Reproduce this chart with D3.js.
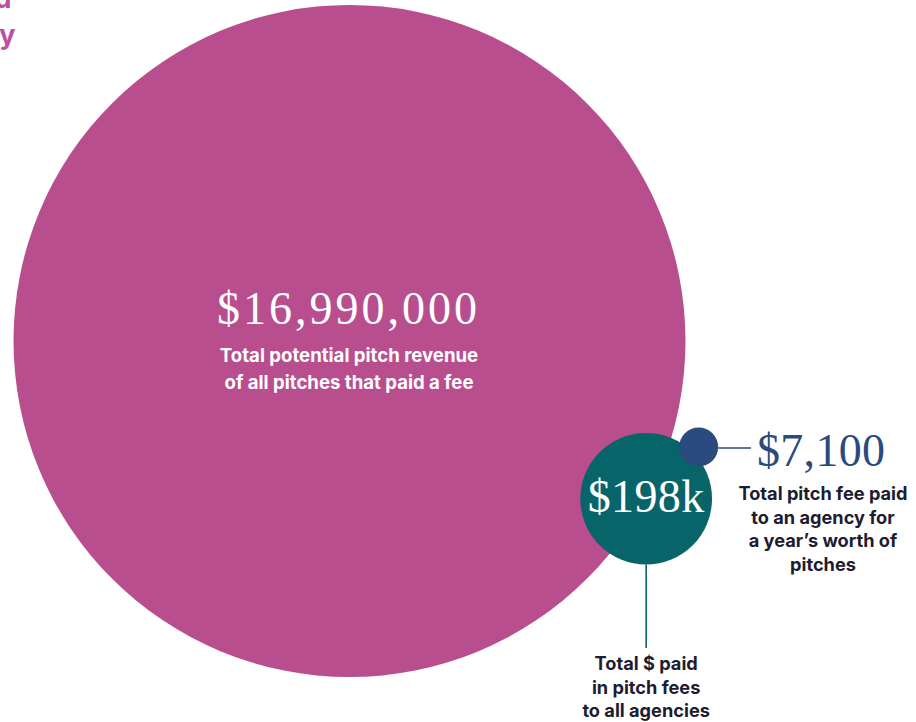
<!DOCTYPE html>
<html>
<head>
<meta charset="utf-8">
<script src="https://cdn.jsdelivr.net/npm/d3@7"></script>
<style>
  html, body { margin: 0; padding: 0; background: #ffffff; }
  svg { display: block; }
  .num { font-family: "Liberation Serif", "DejaVu Serif", serif; font-weight: 400; }
  .lbl { font-family: Inter, "Noto Sans", sans-serif; font-weight: 700; }
</style>
</head>
<body>
<svg id="chart" width="916" height="722"></svg>
<script>
// Amounts shown as bubbles
const names = ["potential", "paidAll", "paidAgency"];
const values = [16990000, 198000, 7100];
const valueLabels = ["$16,990,000", "$198k", "$7,100"];
const descriptions = [
  ["Total potential pitch revenue", "of all pitches that paid a fee"],
  ["Total $ paid", "in pitch fees", "to all agencies"],
  ["Total pitch fee paid", "to an agency for", "a year\u2019s worth of", "pitches"]
];
const colors = ["#b94e8f", "#07656a", "#2b4a7d"];
const titleLines = ["What is actually paid", "per pitch, by agency"];

const W = 916, H = 722;
const svg = d3.select("#chart");

// Bubble radius grows with a compressed power of the amount
const r = d3.scalePow().exponent(0.366).domain([0, values[0]]).range([0, 336]);
const R = values.map(v => r(v));

// Layout: big bubble, the middle bubble sits on its rim, the small one hangs off the middle
const big = { x: 349.5, y: 341 };
const a1 = 28 * Math.PI / 180;
const mid = { x: big.x + R[0] * Math.cos(a1), y: big.y + R[0] * Math.sin(a1) };
const a2 = -44.6 * Math.PI / 180;
const d2 = R[1] + R[2] - 11.6;
const small = { x: mid.x + d2 * Math.cos(a2), y: mid.y + d2 * Math.sin(a2) };
const centers = [big, mid, small];

// Title, running off the left edge of the frame
svg.append("g")
  .selectAll("text")
  .data(titleLines)
  .join("text")
  .attr("class", "lbl")
  .attr("x", (d, i) => i === 0 ? 11.5 : 15.5)
  .attr("y", (d, i) => 8 + i * 36)
  .attr("text-anchor", "end")
  .attr("font-size", 27)
  .attr("font-weight", 800)
  .attr("fill", "#be4f9d")
  .text(d => d);

// Leader lines
svg.append("line")
  .attr("x1", mid.x).attr("x2", mid.x)
  .attr("y1", mid.y + R[1]).attr("y2", 648)
  .attr("stroke", colors[1]).attr("stroke-width", 1.6);
svg.append("line")
  .attr("x1", small.x + R[2]).attr("x2", 751)
  .attr("y1", small.y + 1).attr("y2", small.y + 1)
  .attr("stroke", colors[2]).attr("stroke-width", 1.6);

// Bubbles
svg.append("g")
  .selectAll("circle")
  .data(values)
  .join("circle")
  .attr("cx", (d, i) => centers[i].x)
  .attr("cy", (d, i) => centers[i].y)
  .attr("r", d => r(d))
  .attr("fill", (d, i) => colors[i]);

// Big amount figures
svg.append("text").attr("class", "num")
  .attr("x", big.x - 1).attr("y", 324)
  .attr("text-anchor", "middle")
  .attr("font-size", 46).attr("letter-spacing", 3)
  .attr("fill", "#ffffff")
  .text(valueLabels[0]);

svg.append("text").attr("class", "num")
  .attr("x", mid.x).attr("y", 512)
  .attr("text-anchor", "middle")
  .attr("font-size", 46).attr("letter-spacing", 0.4)
  .attr("fill", "#ffffff")
  .text(valueLabels[1]);

svg.append("text").attr("class", "num")
  .attr("x", 757).attr("y", 466)
  .attr("text-anchor", "start")
  .attr("font-size", 46).attr("letter-spacing", 0.3)
  .attr("fill", colors[2])
  .text(valueLabels[2]);

// Description blocks
function block(lines, x, y0, lh, size, fill) {
  svg.append("g").selectAll("text")
    .data(lines)
    .join("text")
    .attr("class", "lbl")
    .attr("x", x)
    .attr("y", (d, i) => y0 + i * lh)
    .attr("text-anchor", "middle")
    .attr("font-size", size)
    .attr("fill", fill)
    .text(d => d);
}
block(descriptions[0], 349, 362, 26.5, 18.6, "#ffffff");
block(descriptions[1], mid.x, 670, 23.5, 18.2, "#1d1c30");
block(descriptions[2], 823, 500, 23.7, 18.2, "#1d1c30");
</script>
</body>
</html>
